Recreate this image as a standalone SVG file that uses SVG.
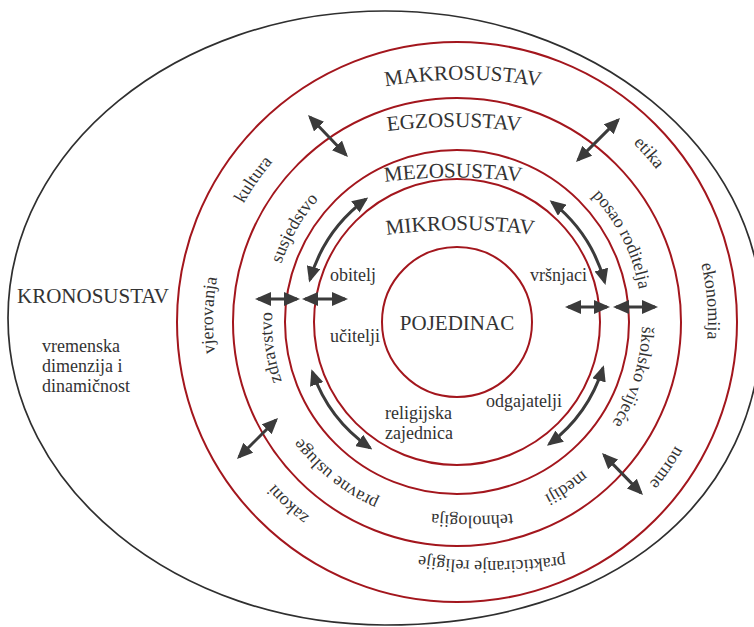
<svg xmlns="http://www.w3.org/2000/svg" width="754" height="627" viewBox="0 0 754 627" font-family="'Liberation Serif', 'DejaVu Serif', serif">
<style>
.ring{fill:none;stroke:#a3161d;stroke-width:2}
.outer{fill:none;stroke:#2f2f2f;stroke-width:1.7}
.sys{font-size:21px;fill:#333;font-family:'Liberation Serif','DejaVu Serif',serif}
.lab{font-size:18px;fill:#333;font-family:'Liberation Serif','DejaVu Serif',serif}
.arr{fill:none;stroke:#3b3b3b;stroke-width:3}
</style>
<defs>
<marker id="ah" viewBox="0 0 16 14" markerUnits="userSpaceOnUse" markerWidth="16" markerHeight="14" refX="13" refY="7" orient="auto-start-reverse">
<path d="M0,0 L16,7 L0,14 z" fill="#3b3b3b"/>
</marker>
<path id="mk1" d="M457 78 A244 244 0 1 1 457 566 A244 244 0 1 1 457 78"/>
<path id="mk2" d="M457 71 A251 251 0 1 1 457 573 A251 251 0 1 1 457 71"/>
<path id="eg1" d="M457 137 A185 185 0 1 1 457 507 A185 185 0 1 1 457 137"/>
<path id="eg2" d="M457 128 A194 194 0 1 1 457 516 A194 194 0 1 1 457 128"/>
<path id="tPrakt" d="M572 554.6 A500 500 0 0 1 412 554.6"/>
<path id="tTehno" d="M540 510 A400 400 0 0 1 404 510"/>
<path id="tMakro" d="M343 96 A450 450 0 0 1 583 96"/>
<path id="tEgzo" d="M354 136.2 A550 550 0 0 1 554 136.2"/>
<path id="tMezo" d="M353 186.7 A550 550 0 0 1 553 186.7"/>
<path id="tMikro" d="M360 239 A560 560 0 0 1 560 239"/>
</defs>
<rect width="754" height="627" fill="#fff"/>

<g id="kronosustav">
<path class="outer" d="M8 318 C8 148.4 176.8 11 385 11 C593.2 11 762 148.4 762 318 C762 502.2 611.2 625 385 625 C176.8 625 8 487.6 8 318 Z"/>
<text class="sys" x="17" y="303">KRONOSUSTAV</text>
<text class="lab" x="42" y="352">vremenska</text>
<text class="lab" x="42" y="372">dimenzija i</text>
<text class="lab" x="42" y="392">dinamičnost</text>
</g>

<g id="makrosustav">
<circle class="ring" cx="457" cy="322" r="280"/>
<text class="sys"><textPath href="#tMakro" startOffset="50%" text-anchor="middle">MAKROSUSTAV</textPath></text>
<text class="lab"><textPath href="#mk1" startOffset="84.72%" text-anchor="middle">kultura</textPath></text>
<text class="lab"><textPath href="#mk1" startOffset="75.44%" text-anchor="middle">vjerovanja</textPath></text>
<text class="lab"><textPath href="#mk1" startOffset="61.9%" text-anchor="middle">zakoni</textPath></text>
<text class="lab"><textPath href="#tPrakt" startOffset="50%" text-anchor="middle">prakticiranje religije</textPath></text>
<text class="lab"><textPath href="#mk2" startOffset="34.67%" text-anchor="middle">norme</textPath></text>
<text class="lab"><textPath href="#mk2" startOffset="23.69%" text-anchor="middle">ekonomija</textPath></text>
<text class="lab"><textPath href="#mk2" startOffset="13.5%" text-anchor="middle">etika</textPath></text>
</g>

<g id="egzosustav">
<circle class="ring" cx="457" cy="322" r="224"/>
<text class="sys"><textPath href="#tEgzo" startOffset="50%" text-anchor="middle">EGZOSUSTAV</textPath></text>
<text class="lab"><textPath href="#eg1" startOffset="83.33%" text-anchor="middle">susjedstvo</textPath></text>
<text class="lab"><textPath href="#eg1" startOffset="72.83%" text-anchor="middle">zdravstvo</textPath></text>
<text class="lab"><textPath href="#eg2" startOffset="60.7%" text-anchor="middle">pravne usluge</textPath></text>
<text class="lab"><textPath href="#tTehno" startOffset="50%" text-anchor="middle">tehnologija</textPath></text>
<text class="lab"><textPath href="#eg2" startOffset="40.72%" text-anchor="middle">mediji</textPath></text>
<text class="lab"><textPath href="#eg1" startOffset="29.8%" text-anchor="middle">školsko vijeće</textPath></text>
<text class="lab"><textPath href="#eg1" startOffset="17.6%" text-anchor="middle">posao roditelja</textPath></text>
</g>

<g id="mezosustav">
<circle class="ring" cx="457" cy="322" r="172"/>
<text class="sys"><textPath href="#tMezo" startOffset="50%" text-anchor="middle">MEZOSUSTAV</textPath></text>
</g>

<g id="mikrosustav">
<circle class="ring" cx="457" cy="322" r="143"/>
<text class="sys"><textPath href="#tMikro" startOffset="50%" text-anchor="middle">MIKROSUSTAV</textPath></text>
<text class="lab" x="330" y="281">obitelj</text>
<text class="lab" x="530" y="281">vršnjaci</text>
<text class="lab" x="330" y="342">učitelji</text>
<text class="lab" x="486" y="407">odgajatelji</text>
<text class="lab" x="385" y="419">religijska</text>
<text class="lab" x="385" y="439">zajednica</text>
</g>

<g id="pojedinac">
<circle class="ring" cx="457" cy="322" r="75"/>
<text class="sys" x="457" y="330" text-anchor="middle">POJEDINAC</text>
</g>

<g id="connectors">
<path class="arr" marker-start="url(#ah)" marker-end="url(#ah)" d="M310.1 117.2 L345.9 154.8"/>
<path class="arr" marker-start="url(#ah)" marker-end="url(#ah)" d="M617.9 120.1 L578.1 159.9"/>
<path class="arr" marker-start="url(#ah)" marker-end="url(#ah)" d="M239.1 456.9 L275.9 420.1"/>
<path class="arr" marker-start="url(#ah)" marker-end="url(#ah)" d="M604.1 455.1 L640.9 492.9"/>
<path class="arr" marker-start="url(#ah)" marker-end="url(#ah)" d="M258 299 L297 299"/>
<path class="arr" marker-start="url(#ah)" marker-end="url(#ah)" d="M305 299 L345 299"/>
<path class="arr" marker-start="url(#ah)" marker-end="url(#ah)" d="M568 307 L607 307"/>
<path class="arr" marker-start="url(#ah)" marker-end="url(#ah)" d="M616 307 L655 307"/>
<path class="arr" marker-start="url(#ah)" marker-end="url(#ah)" d="M365.8 199.2 A153 153 0 0 0 310.0 279.6"/>
<path class="arr" marker-start="url(#ah)" marker-end="url(#ah)" d="M552.0 202.1 A153 153 0 0 1 604.7 282.1"/>
<path class="arr" marker-start="url(#ah)" marker-end="url(#ah)" d="M312.4 372.1 A153 153 0 0 0 369.9 447.8"/>
<path class="arr" marker-start="url(#ah)" marker-end="url(#ah)" d="M602.9 368.0 A153 153 0 0 1 549.3 444.0"/>
</g>
</svg>
